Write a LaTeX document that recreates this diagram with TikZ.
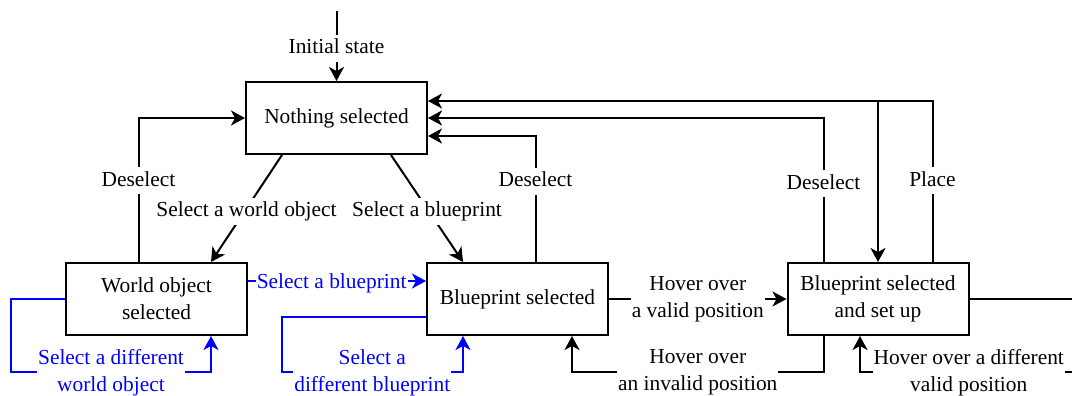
\documentclass[tikz,border=0pt]{standalone}
\usepackage{fontspec}
\setmainfont{Liberation Serif}
\usetikzlibrary{arrows.meta}
\usetikzlibrary{calc}
\tikzset{
  state/.style={
    rectangle,
    draw=black, line width=2pt,
    minimum width=181pt, minimum height=72pt,
    align=center,
    text centered},
  trans/.style={line width=2pt},
  lbl/.style={fill=white, inner xsep=1pt, inner ysep=0pt, align=center, yshift=-2.5pt,
    execute at begin node=\strut, execute at end node=\strut},
  alt/.style={blue, text=blue},
}
\tikzset{>={Stealth[length=14pt,width=15pt,inset=4pt]}}

\begin{document}
\begin{tikzpicture}[x=1pt,y=-1pt,font=\fontsize{21.4pt}{27pt}\selectfont]
\clip (0,0) rectangle (1072,396);

\node[state] at (336.5,118) (nothing) {Nothing selected};
\node[state] at (156.5,299) (world)   {World object\\selected};
\node[state] at (517.5,299) (bp)      {Blueprint selected};
\node[state] at (878,299)   (bpset)   {Blueprint selected\\and set up};

\coordinate (start) at (336.5,11);
\coordinate (fork) at (878,101);

\draw[->,trans] (start) -- node[lbl] {Initial state} (nothing);
\draw[->,trans] ($(nothing.south)+(-54.5,0)$) -- node[lbl] {Select a world object} ($(world.north)+(54.5,0)$);
\draw[->,trans] ($(nothing.south)+(54.5,0)$) -- node[lbl] {Select a blueprint} ($(bp.north)+(-54.5,0)$);

\draw[->,trans] ($(world.north)+(-18,0)$) |- node[lbl,pos=0.29] {Deselect} (nothing.west);
\draw[->,trans] ($(bp.north)+(18,0)$) |- node[lbl,pos=0.33] {Deselect} ($(nothing.east)+(0,18)$);
\draw[->,trans] ($(bpset.north)+(-54.5,0)$) |- node[lbl,pos=0.28] {Deselect} (nothing.east);
\draw[->,trans] ($(bpset.north)+(54.5,0)$) |- node[lbl,pos=0.26] {Place} ($(nothing.east)+(0,-17)$);
\draw[->,trans] (fork) -- (bpset);

% blue transitions
\draw[->,trans,alt] ($(world.east)+(0,-18)$) -- node[lbl,pos=0.47] {Select a blueprint} ($(bp.west)+(0,-18)$);
\draw[->,trans,alt] (world.west) -- ++(-54,0) |- node[lbl,pos=0.75] {Select a different\\world object} ($(world.south)+(54.5,36)$) -- ($(world.south)+(54.5,0)$);
\draw[->,trans,alt] ($(bp.west)+(0,18)$) -- ++(-144.5,0) |- node[lbl,pos=0.75] {Select a\\different blueprint} ($(bp.south)+(-54.5,36)$) -- ($(bp.south)+(-54.5,0)$);

\draw[->,trans] (bp.east) -- node[lbl] {Hover over\\a valid position} (bpset.west);
\draw[->,trans] ($(bpset.south)+(-54.5,0)$) |- node[lbl,pos=0.75] {Hover over\\an invalid position} ($(bp.south)+(54.5,36)$) -- ($(bp.south)+(54.5,0)$);
\draw[->,trans] (bpset.east) -- ++(108,0) |- node[lbl,pos=0.75] {Hover over a different\\valid position} ($(bpset.south)+(-18,36)$) -- ($(bpset.south)+(-18,0)$);
\end{tikzpicture}
\end{document}
